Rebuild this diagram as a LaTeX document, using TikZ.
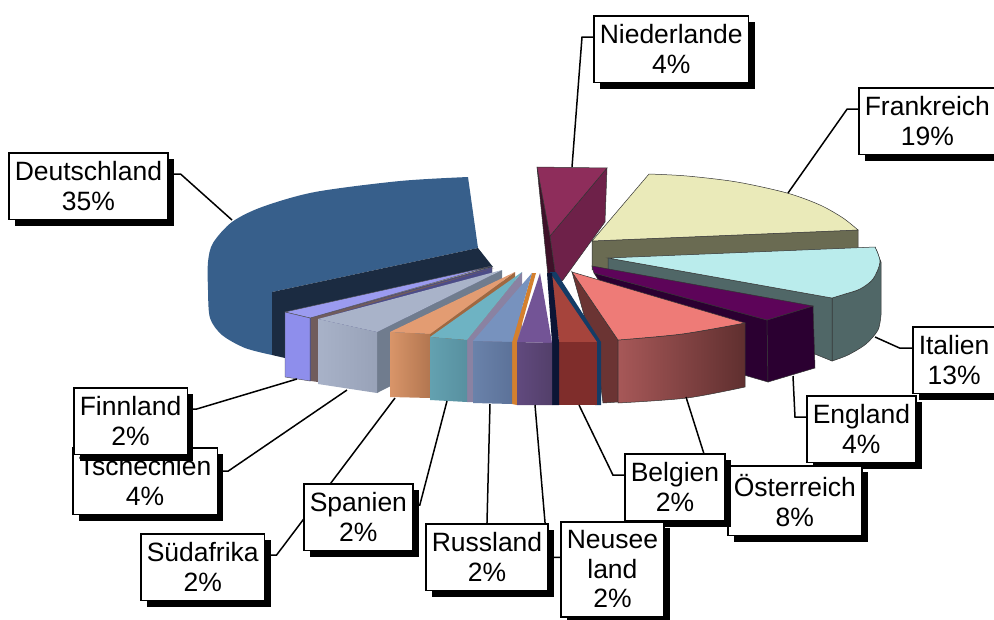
\documentclass[tikz,border=0pt]{standalone}
\usepackage{fontspec}
\setmainfont{Liberation Sans}
\usepackage{tikz}
\usetikzlibrary{shadows}
\pgfdeclarelayer{pie}
\pgfdeclarelayer{lead}
\pgfsetlayers{pie,lead,main}
\definecolor{deublue}{HTML}{375F8B}
\definecolor{deudark}{HTML}{1B2B41}
\definecolor{niedtop}{HTML}{8E2D5B}
\definecolor{niedside}{HTML}{6E2149}
\definecolor{nieddark}{HTML}{3E1129}
\definecolor{franktop}{HTML}{EAEAB9}
\definecolor{frankside}{HTML}{6A6B52}
\definecolor{italtop}{HTML}{BAECEC}
\definecolor{italside}{HTML}{506767}
\definecolor{engltop}{HTML}{5D0459}
\definecolor{engldark}{HTML}{2B0031}
\definecolor{oesttop}{HTML}{EE7B77}
\definecolor{oestleft}{HTML}{A75858}
\definecolor{oestright}{HTML}{5F2F2F}
\definecolor{oestside}{HTML}{6B3433}
\definecolor{belgtop}{HTML}{A6443C}
\definecolor{belgfront}{HTML}{7F2D2B}
\definecolor{navyleft}{HTML}{0C1535}
\definecolor{navyright}{HTML}{143C66}
\definecolor{neustop}{HTML}{735496}
\definecolor{neusfront}{HTML}{614A7E}
\definecolor{neusdark}{HTML}{533F6A}
\definecolor{orangesl}{HTML}{D4802E}
\definecolor{russtop}{HTML}{7792BE}
\definecolor{russfront}{HTML}{6A82AA}
\definecolor{russdark}{HTML}{5C7299}
\definecolor{spantop}{HTML}{6EB3C3}
\definecolor{spanfront}{HTML}{63A1B0}
\definecolor{spandark}{HTML}{5890A0}
\definecolor{spanside}{HTML}{8A82A2}
\definecolor{suedtop}{HTML}{E39C72}
\definecolor{suedfront}{HTML}{D99569}
\definecolor{sueddark}{HTML}{B27650}
\definecolor{suedside}{HTML}{A06840}
\definecolor{tschtop}{HTML}{A9B3C9}
\definecolor{tschfront}{HTML}{A8B2C8}
\definecolor{tschdark}{HTML}{98A2B8}
\definecolor{tschside}{HTML}{707C8E}
\definecolor{brownsl}{HTML}{705C5C}
\definecolor{finntop}{HTML}{9B9BF0}
\definecolor{finnfront}{HTML}{8E8EEC}
\definecolor{finnside}{HTML}{4C4C88}

\begin{document}
\begin{tikzpicture}[x=1pt, y=-1pt,
        rslice/.style={draw=black!80, line width=0.5pt},
        lead/.style={draw=black, line width=1.5pt},
        lbl/.style={draw=black, fill=white, line width=1.5pt, align=center, anchor=north west,
            inner xsep=6pt, inner ysep=9pt, font=\fontsize{26.5}{29.5}\selectfont,
            drop shadow={shadow xshift=6pt, shadow yshift=-6pt, opacity=1, fill=black}}]
    \useasboundingbox (0,0) rectangle (994,619);
    \clip (0,0) rectangle (994,619);

    \begin{pgfonlayer}{pie}
        % Deutschland
        \fill[deublue] plot[smooth] coordinates {(272,355) (245,348) (222,335) (210,318) (208,290) (208,262)
            (213,243) (232,222) (262,207) (315,192) (400,181) (468,177)}
            -- (478,248) -- (272,292) -- cycle;
        \fill[deudark] (272,292) -- (478,248) -- (493,267) -- (285,313) -- (285,358) -- (272,355) -- cycle;
        % Niederlande
        \filldraw[rslice, fill=nieddark] (537,167) -- (550,236) -- (557,285) -- (548,276) -- cycle;
        \filldraw[rslice, fill=niedside] (550,236) -- (607,168) -- (605,222) -- (563,280) -- (557,285) -- cycle;
        \filldraw[rslice, fill=niedtop] (537,167) -- (607,168) -- (550,236) -- cycle;
        % Frankreich
        \filldraw[rslice, fill=frankside] (592,241) -- (858,230) -- (858,262) -- (592,270) -- cycle;
        \filldraw[rslice, fill=franktop] (592,241)
            -- plot[smooth] coordinates {(649,174) (687,176) (737,182) (787,193) (820,205) (843,218) (858,230)} -- cycle;
        % Italien
        \filldraw[rslice, fill=italside] plot[smooth] coordinates {(875,247) (880,262) (873,279) (860,289) (845,294) (832,298)}
            -- (832,361) -- plot[smooth] coordinates {(832,361) (848,355) (866,344) (878,330) (881,315)} -- (881,262) -- cycle;
        \filldraw[rslice, fill=italside] (608,258) -- (832,298) -- (832,361) -- (608,270) -- cycle;
        \filldraw[rslice, fill=italtop] (608,258)
            -- plot[smooth] coordinates {(875,247) (880,262) (873,279) (860,289) (845,294) (832,298)} -- cycle;
        % England
        \filldraw[rslice, fill=engldark] (594,273) -- (767,320) -- (768,382) -- (640,345) -- cycle;
        \filldraw[rslice, fill=engldark] (767,320) -- (813,306) -- (815,368) -- (768,382) -- cycle;
        \filldraw[rslice, fill=engltop] (592,266) -- (813,306) -- (767,320) -- (594,273) -- cycle;
        % Oesterreich
        \filldraw[rslice, fill=oestside] (572,272) -- (618,340) -- (618,402) -- (603,403) -- (598,365) -- cycle;
        \path[rslice, left color=oestleft, right color=oestright]
            plot[smooth] coordinates {(618,340) (682,334) (745,323)} -- (745,387)
            -- plot[smooth] coordinates {(745,387) (687,398) (618,403)} -- cycle;
        \filldraw[rslice, fill=oesttop] (572,272) -- plot[smooth] coordinates {(745,323) (682,334) (618,340)} -- cycle;
        % Belgien
        \fill[navyright] (550,272) -- (556,272) -- (601,342) -- (601,405) -- (595,405) -- cycle;
        \fill[belgtop] (550,273) -- (597,342) -- (559,342) -- cycle;
        \fill[belgfront] (559,342) -- (597,342) -- (597,405) -- (559,405) -- cycle;
        \fill[navyleft] (547,273) -- (552,273) -- (559,342) -- (559,405) -- (552,405) -- (552,343) -- cycle;
        % Finnland
        \filldraw[fill=finnside, draw=black!70, line width=0.4pt] (310,318) -- (492,267) -- (492,330) -- (310,381) -- cycle;
        \filldraw[fill=finntop, draw=black!70, line width=0.4pt] (285,312) -- (310,318) -- (492,266) -- cycle;
        \filldraw[fill=finnfront, draw=black!70, line width=0.4pt] (285,312) -- (310,318) -- (310,381) -- (285,377) -- cycle;
        \fill[brownsl] (311,318) -- (494,268) -- (318,319) -- (318,382) -- (311,381) -- cycle;
        % Tschechien
        \fill[tschside] (377,332) -- (502,270) -- (502,330) -- (377,393) -- cycle;
        \fill[tschtop] (318,319) -- (377,332) -- (502,270) -- cycle;
        \path[left color=tschfront, right color=tschdark] (318,319) -- (377,332) -- (377,393) -- (318,384) -- cycle;
        % Suedafrika
        \fill[suedside] (430,334) -- (515,272) -- (515,335) -- (430,398) -- cycle;
        \fill[suedtop] (390,332) -- (430,334) -- (515,272) -- cycle;
        \path[left color=suedfront, right color=sueddark] (390,332) -- (430,334) -- (430,398) -- (390,397) -- cycle;
        % Spanien
        \fill[spanside] (467,340) -- (522,272) -- (522,335) -- (473,402) -- (467,402) -- cycle;
        \fill[spantop] (430,337) -- (467,340) -- (522,272) -- cycle;
        \path[left color=spanfront, right color=spandark] (430,337) -- (467,340) -- (467,402) -- (430,400) -- cycle;
        % Russland
        \fill[orangesl] (512,342) -- (532,273) -- (536,273) -- (517,342) -- (517,405) -- (512,404) -- cycle;
        \fill[russtop] (473,341) -- (512,342) -- (532,273) -- cycle;
        \path[left color=russfront, right color=russdark] (473,341) -- (512,342) -- (512,404) -- (473,403) -- cycle;
        % Neuseeland
        \fill[neustop] (517,342) -- (552,343) -- (540,273) -- cycle;
        \path[left color=neusfront, right color=neusdark] (517,342) -- (552,343) -- (552,405) -- (517,405) -- cycle;

        % leader ends
        \coordinate (pDeut) at (232,220);
        \coordinate (pNied) at (572,167);
        \coordinate (pFrank) at (788,193);
        \coordinate (pItal) at (875,337);
        \coordinate (pEngl) at (793,376);
        \coordinate (pOest) at (686,397);
        \coordinate (pBelg) at (579,405);
        \coordinate (pNeus) at (535,405);
        \coordinate (pRuss) at (490,404);
        \coordinate (pSpan) at (447,401);
        \coordinate (pSued) at (395,398);
        \coordinate (pTsch) at (347,390);
        \coordinate (pFinn) at (297,379);
    \end{pgfonlayer}

    % Add labels
    \node[lbl] (deut) at (8,152) {Deutschland\\35\%};
    \node[lbl] (nied) at (593,15) {Niederlande\\4\%};
    \node[lbl] (frank) at (858,87) {Frankreich\\19\%};
    \node[lbl] (ital) at (912,326) {Italien\\13\%};
    \node[lbl] (engl) at (806,395) {England\\4\%};
    \node[lbl] (oest) at (727,465) {Österreich\\8\%};
    \node[lbl] (belg) at (624,453) {Belgien\\2\%};
    \node[lbl] (neus) at (560,521) {Neusee\\land\\2\%};
    \node[lbl] (russ) at (425,523) {Russland\\2\%};
    \node[lbl] (sued) at (140,533) {Südafrika\\2\%};
    \node[lbl] (span) at (303,483) {Spanien\\2\%};
    \node[lbl] (tsch) at (72,447) {Tschechien\\4\%};
    \node[lbl] (finn) at (73,387) {Finnland\\2\%};

    % Add leader lines
    \begin{pgfonlayer}{lead}
        \draw[lead] ([yshift=12pt]deut.east) -- ++(12,0) -- (pDeut);
        \draw[lead] ([yshift=12pt]nied.west) -- ++(-11,0) -- (pNied);
        \draw[lead] ([yshift=12pt]frank.west) -- ++(-11,0) -- (pFrank);
        \draw[lead] ([yshift=12pt]ital.west) -- ++(-12,0) -- (pItal);
        \draw[lead] ([yshift=12pt]engl.west) -- ++(-11,0) -- (pEngl);
        \draw[lead] ([yshift=12pt]oest.west) -- ++(-12,0) -- (pOest);
        \draw[lead] ([yshift=12pt]belg.west) -- ++(-11,0) -- (pBelg);
        \draw[lead] ([yshift=12pt]neus.west) -- ++(-12,0) -- (pNeus);
        \draw[lead] (russ.north) -- (pRuss);
        \draw[lead] ([yshift=12pt]span.east) -- ++(6,0) -- (pSpan);
        \draw[lead] ([yshift=12pt]sued.east) -- ++(11,0) -- (pSued);
        \draw[lead] ([yshift=10pt]tsch.east) -- ++(10,0) -- (pTsch);
        \draw[lead] ([yshift=12pt]finn.east) -- ++(8,0) -- (pFinn);
    \end{pgfonlayer}
\end{tikzpicture}
\end{document}
